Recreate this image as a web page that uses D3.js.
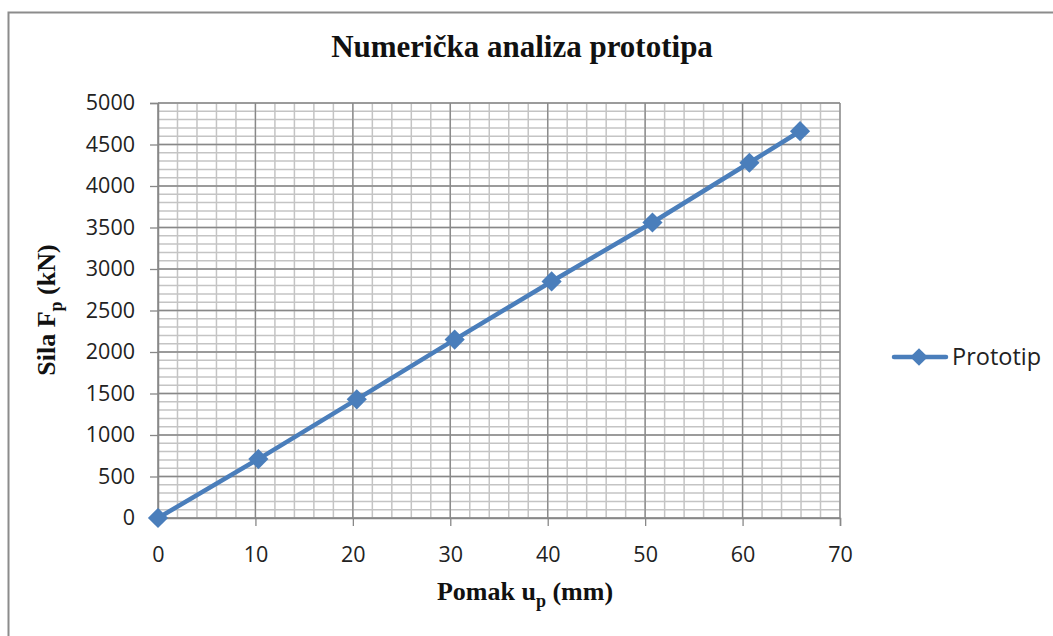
<!DOCTYPE html>
<html>
<head>
<meta charset="utf-8">
<script src="https://cdn.jsdelivr.net/npm/d3@7"></script>
<style>
  body { margin: 0; background: #fff; }
  svg { display: block; }
</style>
</head>
<body>
<svg id="chart" width="1053" height="636"></svg>
<script>
var width = 1053, height = 636

// data
var pomak = [0, 10.3, 20.4, 30.45, 40.4, 50.75, 60.7, 65.9]   // mm
var sila = [0, 710, 1430, 2150, 2850, 3560, 4280, 4660]      // kN
var xTicks = [0, 10, 20, 30, 40, 50, 60, 70]
var yTicks = [0, 500, 1000, 1500, 2000, 2500, 3000, 3500, 4000, 4500, 5000]
var seriesName = "Prototip"

var blue = "#4a7ebb"
var plot = {left: 158, right: 840, top: 103, bottom: 518}
var sans = "'Open Sans', 'Liberation Sans', sans-serif"
var serif = "'Liberation Serif', 'Times New Roman', serif"

var svg = d3.select("#chart")

// outer frame (cut off at right and bottom like the screenshot)
svg.append("rect")
    .attr("x", 8.5).attr("y", 12.5)
    .attr("width", 1100).attr("height", 700)
    .attr("fill", "none").attr("stroke", "#8c8c8c").attr("stroke-width", 2)

var x = d3.scaleLinear().domain([0, 70]).range([plot.left, plot.right])
var y = d3.scaleLinear().domain([0, 5000]).range([plot.bottom, plot.top])

// minor grid
var g = svg.append("g")
g.selectAll(".vminor")
    .data(d3.range(0, 71, 2))
    .join("line")
    .attr("x1", d => x(d)).attr("x2", d => x(d))
    .attr("y1", plot.top).attr("y2", plot.bottom)
    .attr("stroke", "#c4c4c4").attr("stroke-width", 1.5)
g.selectAll(".hminor")
    .data(d3.range(0, 5001, 100))
    .join("line")
    .attr("x1", plot.left).attr("x2", plot.right)
    .attr("y1", d => y(d)).attr("y2", d => y(d))
    .attr("stroke", "#c4c4c4").attr("stroke-width", 1.5)

// major grid
g.selectAll(".vmajor")
    .data(xTicks)
    .join("line")
    .attr("x1", d => x(d)).attr("x2", d => x(d))
    .attr("y1", plot.top).attr("y2", plot.bottom)
    .attr("stroke", "#888").attr("stroke-width", 1.3)
g.selectAll(".hmajor")
    .data(yTicks)
    .join("line")
    .attr("x1", plot.left).attr("x2", plot.right)
    .attr("y1", d => y(d)).attr("y2", d => y(d))
    .attr("stroke", "#888").attr("stroke-width", 1.3)

// axes
var xAxis = svg.append("g")
    .attr("transform", "translate(0," + plot.bottom + ")")
    .call(d3.axisBottom(x).tickValues(xTicks).tickFormat(d3.format("d")).tickSize(8).tickPadding(21))
var yAxis = svg.append("g")
    .attr("transform", "translate(" + plot.left + ",0)")
    .call(d3.axisLeft(y).tickValues(yTicks).tickFormat(d3.format("d")).tickSize(8).tickPadding(15))

;[xAxis, yAxis].forEach(function(a) {
    a.select(".domain").attr("stroke", "#888").attr("stroke-width", 1.5)
    a.selectAll(".tick line").attr("stroke", "#888").attr("stroke-width", 1.3)
    a.selectAll("text")
        .attr("fill", "#222")
        .style("font-family", sans)
        .style("font-size", "21.5px")
})

// series
var pts = pomak.map((d, i) => [d, sila[i]])
svg.append("path")
    .datum(pts)
    .attr("fill", "none")
    .attr("stroke", blue)
    .attr("stroke-width", 4.5)
    .attr("stroke-linejoin", "round")
    .attr("d", d3.line().x(d => x(d[0])).y(d => y(d[1])))

var diamond = d3.symbol().type(d3.symbolDiamond2).size(260)
svg.selectAll(".pt")
    .data(pts)
    .join("path")
    .attr("transform", d => "translate(" + x(d[0]) + "," + y(d[1]) + ")")
    .attr("d", diamond)
    .attr("fill", blue)

// title
svg.append("text")
    .attr("x", 522).attr("y", 57)
    .attr("text-anchor", "middle")
    .style("font-family", serif).style("font-weight", "bold").style("font-size", "31px")
    .attr("fill", "#111")
    .text("Numerička analiza prototipa")

// x axis title
var xt = svg.append("text")
    .attr("x", 525).attr("y", 600)
    .attr("text-anchor", "middle")
    .style("font-family", serif).style("font-weight", "bold").style("font-size", "26px")
    .attr("fill", "#111")
xt.append("tspan").text("Pomak u")
xt.append("tspan").attr("dy", 7).style("font-size", "18px").text("p")
xt.append("tspan").attr("dy", -7).text(" (mm)")

// y axis title
var yt = svg.append("text")
    .attr("transform", "translate(55,310) rotate(-90)")
    .attr("text-anchor", "middle")
    .style("font-family", serif).style("font-weight", "bold").style("font-size", "26px")
    .attr("fill", "#111")
yt.append("tspan").text("Sila  F")
yt.append("tspan").attr("dy", 7).style("font-size", "18px").text("p")
yt.append("tspan").attr("dy", -7).text(" (kN)")

// legend
var leg = svg.append("g").attr("transform", "translate(0,357)")
leg.append("line")
    .attr("x1", 894).attr("x2", 946)
    .attr("stroke", blue).attr("stroke-width", 4.5).attr("stroke-linecap", "round")
leg.append("path")
    .attr("transform", "translate(919,0)")
    .attr("d", d3.symbol().type(d3.symbolDiamond2).size(200))
    .attr("fill", blue)
leg.append("text")
    .attr("x", 952).attr("y", 8)
    .style("font-family", sans)
    .style("font-size", "23.5px")
    .attr("fill", "#222")
    .text(seriesName)
</script>
</body>
</html>
